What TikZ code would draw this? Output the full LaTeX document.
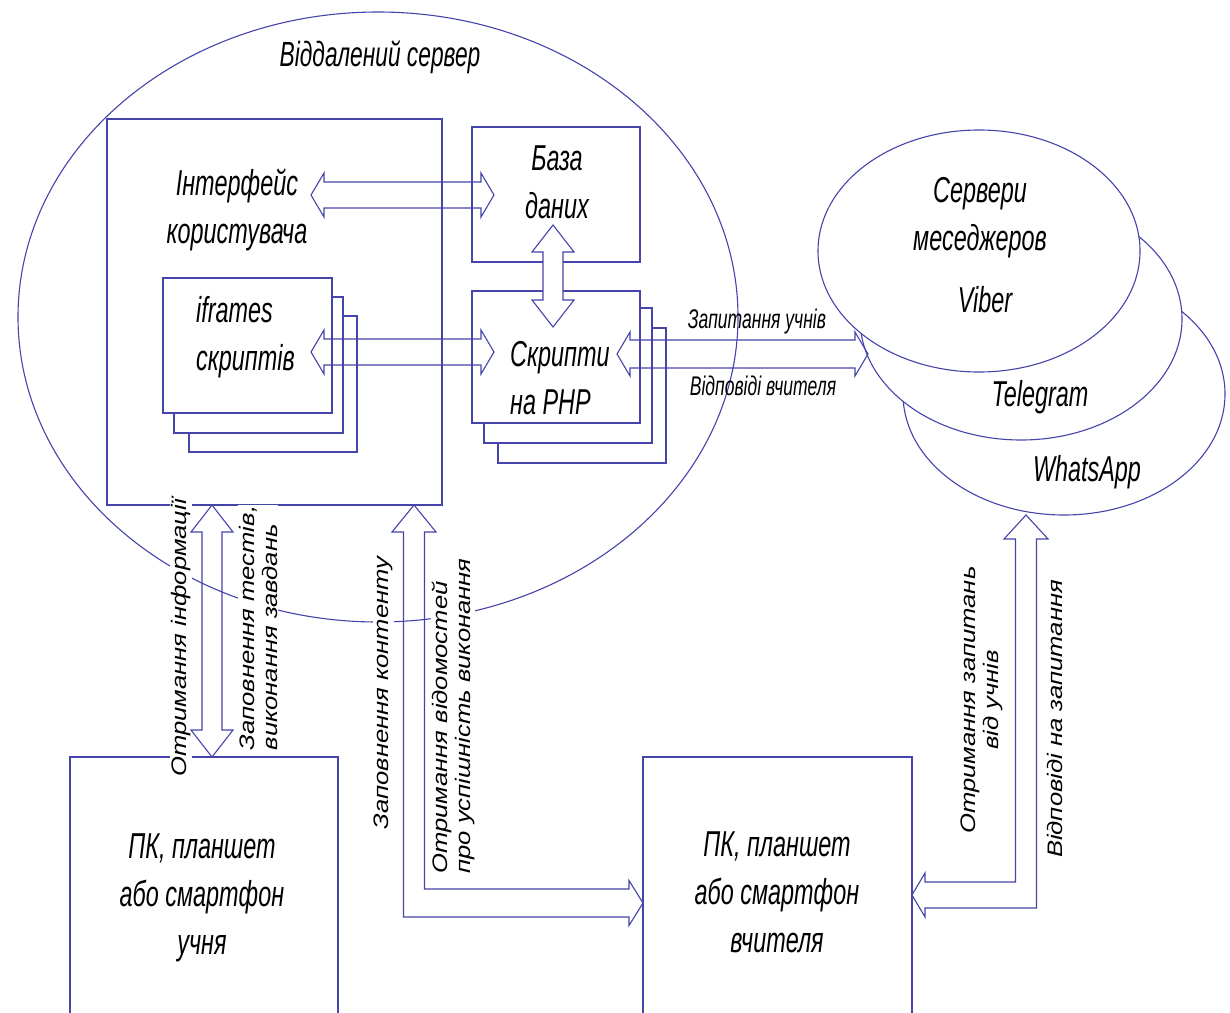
\documentclass[tikz,border=0pt]{standalone}
\usepackage{fontspec}
\setmainfont{Liberation Sans}
\newfontfamily\hf{Liberation Sans}[FakeStretch=0.65]
\newfontfamily\rf{Liberation Sans}[FakeStretch=1.22]
\usetikzlibrary{shapes.geometric,calc}
\definecolor{ln}{RGB}{68,68,170}
\tikzset{
 lnst/.style={draw=ln, line width=1.1pt},
 box/.style={lnst, rectangle, inner sep=0pt, outer sep=0pt},
 ell/.style={lnst, ellipse, inner sep=0pt, outer sep=0pt, fill=white},
 btxt/.style={font=\hf\itshape\fontsize{36}{48}\selectfont, align=center, inner sep=0pt},
 ltxt/.style={font=\hf\itshape\fontsize{27}{30}\selectfont, inner sep=0pt},
 rtxt/.style={font=\rf\itshape\fontsize{21}{23}\selectfont, rotate=90, fill=white, inner sep=1pt},
 arr/.style={lnst, line join=miter},
}
\newcommand\HArrow[6]{%
 \draw[#6] let \p1=(#1), \p2=(#2) in
 (\x1,\y1) -- (\x1+#5,\y1+#4) -- (\x1+#5,\y1+#3) -- (\x2-#5,\y1+#3) -- (\x2-#5,\y1+#4) -- (\x2,\y1)
 -- (\x2-#5,\y1-#4) -- (\x2-#5,\y1-#3) -- (\x1+#5,\y1-#3) -- (\x1+#5,\y1-#4) -- cycle;}
\newcommand\VArrow[6]{%
 \draw[#6] let \p1=(#1), \p2=(#2) in
 (\x1,\y1) -- (\x1+#4,\y1-#5) -- (\x1+#3,\y1-#5) -- (\x1+#3,\y2+#5) -- (\x1+#4,\y2+#5) -- (\x1,\y2)
 -- (\x1-#4,\y2+#5) -- (\x1-#3,\y2+#5) -- (\x1-#3,\y1-#5) -- (\x1-#4,\y1-#5) -- cycle;}
\newcommand\BentR[9]{%
 \draw[#9] let \p1=(#1), \p2=(#2) in
 (\x1,\y1) -- (\x1+#4,\y1-#5) -- (\x1+#3,\y1-#5) -- (\x1+#3,\y2+#6) -- (\x2-#8,\y2+#6) -- (\x2-#8,\y2+#7)
 -- (\x2,\y2) -- (\x2-#8,\y2-#7) -- (\x2-#8,\y2-#6) -- (\x1-#3,\y2-#6) -- (\x1-#3,\y1-#5) -- (\x1-#4,\y1-#5) -- cycle;}
\newcommand\BentL[9]{%
 \draw[#9] let \p1=(#1), \p2=(#2) in
 (\x1,\y1) -- (\x1+#4,\y1-#5) -- (\x1+#3,\y1-#5) -- (\x1+#3,\y2-#6) -- (\x2+#8,\y2-#6) -- (\x2+#8,\y2-#7)
 -- (\x2,\y2) -- (\x2+#8,\y2+#7) -- (\x2+#8,\y2+#6) -- (\x1-#3,\y2+#6) -- (\x1-#3,\y1-#5) -- (\x1-#4,\y1-#5) -- cycle;}
\begin{document}
\begin{tikzpicture}[x=1pt,y=-1pt]
\useasboundingbox (0,0) rectangle (1230,1012);
\fill[white] (0,0) rectangle (1230,1012);
\clip (0,0) rectangle (1230,1012);

% remote server
\node[ell, fill=none, minimum width=720pt, minimum height=610pt] (srv) at (378,317) {};
% messenger servers
\node[ell, minimum width=322pt, minimum height=242pt] (wa) at (1064,394) {};
\node[ell, minimum width=322pt, minimum height=242pt] (tg) at (1021,319) {};
\node[ell, minimum width=322pt, minimum height=242pt] (vb) at (979,251) {};

% boxes
\node[box, minimum width=335pt, minimum height=386pt] (ui) at (274.5,312) {};
\node[box, minimum width=168pt, minimum height=135pt] (db) at (556,194.5) {};
\node[box, minimum width=168pt, minimum height=132pt] (php) at (556,357) {};
\node[box, minimum width=169pt, minimum height=135pt] (ifr) at (247.5,345.5) {};
\node[box, minimum width=268pt, minimum height=283pt] (stu) at (204,898.5) {};
\node[box, minimum width=269pt, minimum height=283pt] (tch) at (777.5,898.5) {};

% stacked sheets
\draw[lnst] ($(ifr.north east)+(0,19)$) -| ($(ifr.south east)+(11,20)$) -| ($(ifr.south west)+(11,0)$);
\draw[lnst] ($(ifr.north east)+(11,38)$) -| ($(ifr.south east)+(25,39)$) -| ($(ifr.south west)+(26,20)$);
\draw[lnst] ($(php.north east)+(0,17)$) -| ($(php.south east)+(12,20)$) -| ($(php.south west)+(12,0)$);
\draw[lnst] ($(php.north east)+(12,37)$) -| ($(php.south east)+(26,40)$) -| ($(php.south west)+(26,20)$);

% texts
\node[btxt, font=\hf\itshape\fontsize{35}{40}\selectfont] (tsrv) at (380,57) {Віддалений сервер};
\node[btxt] (tui) at (237,210) {Інтерфейс\\користувача};
\node[btxt] (tdb) at (557,182) {База\\даних};
\node[btxt, align=left, anchor=west] (tifr) at (196,337) {iframes\\скриптів};
\node[btxt, align=left, anchor=west] (tphp) at (510,378) {Скрипти\\на PHP};
\node[btxt] (tmsg) at (980,218) {Сервери\\меседжеров};
\node[btxt] (tvb) at (985,300) {Viber};
\node[btxt] (ttg) at (1040,397) {Telegram};
\node[btxt] (twa) at (1087,472) {WhatsApp};
\node[btxt] (tstu) at (202,898) {ПК, планшет\\або смартфон\\учня};
\node[btxt] (ttch) at (777,892) {ПК, планшет\\або смартфон\\вчителя};

% labels
\node[ltxt] (lq) at (757,322) {Запитання учнів};
\node[ltxt] (la) at (763,386) {Відповіді вчителя};
\node[rtxt] (l1) at (181,638) {Отримання інформації};
\node[rtxt, align=left] (l2) at (258,628) {Заповнення тестів,\\виконання завдань};
\node[rtxt] (l3) at (383,693) {Заповнення контенту};
\node[rtxt, align=left] (l4) at (453,716) {Отримання відомостей\\про успішність виконання};
\node[rtxt, align=center] (l5) at (982,700) {Отримання запитань\\від учнів};
\node[rtxt] (l6) at (1055,719) {Відповіді на запитання};

% arrow end points
\coordinate (a1l) at (311,195);
\coordinate (a1r) at (494,195);
\coordinate (a2l) at (311,352);
\coordinate (a2r) at (494,352);
\coordinate (a3t) at (553,225);
\coordinate (a3b) at (553,327);
\coordinate (a4l) at (617,354);
\coordinate (a4r) at (868,354);
\coordinate (a5t) at ($(ui.south west)+(105,0)$);
\coordinate (a5b) at ($(stu.north west)+(142,0)$);
\coordinate (a6t) at ($(ui.south west)+(307,0)$);
\coordinate (a6r) at ($(tch.west)+(0,4.5)$);
\coordinate (a7t) at (1026,515);
\coordinate (a7l) at ($(tch.east)+(0,-3.5)$);

% arrows
\HArrow{a1l}{a1r}{13pt}{22pt}{13pt}{arr}
\HArrow{a2l}{a2r}{13pt}{22pt}{13pt}{arr}
\VArrow{a3t}{a3b}{10pt}{21pt}{27pt}{arr, fill=white}
\HArrow{a4l}{a4r}{14pt}{22pt}{13pt}{arr}
\VArrow{a5t}{a5b}{10pt}{21pt}{27pt}{arr}
\BentR{a6t}{a6r}{10.5pt}{22pt}{27pt}{14pt}{22.5pt}{14pt}{arr}
\BentL{a7t}{a7l}{10.5pt}{22pt}{24pt}{13pt}{22pt}{13pt}{arr}
\end{tikzpicture}
\end{document}
